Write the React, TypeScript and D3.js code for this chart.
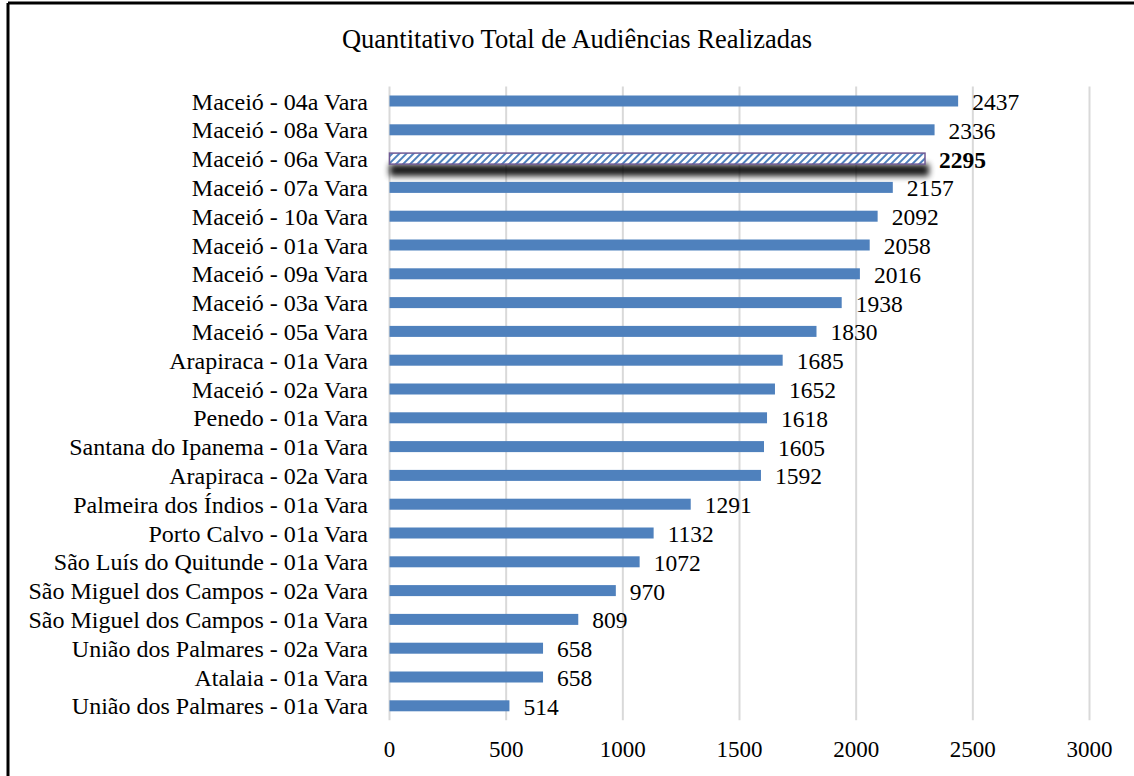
import React from "react";
import * as d3 from "d3";

const categories = [
  "Maceió - 04a Vara",
  "Maceió - 08a Vara",
  "Maceió - 06a Vara",
  "Maceió - 07a Vara",
  "Maceió - 10a Vara",
  "Maceió - 01a Vara",
  "Maceió - 09a Vara",
  "Maceió - 03a Vara",
  "Maceió - 05a Vara",
  "Arapiraca - 01a Vara",
  "Maceió - 02a Vara",
  "Penedo - 01a Vara",
  "Santana do Ipanema - 01a Vara",
  "Arapiraca - 02a Vara",
  "Palmeira dos Índios - 01a Vara",
  "Porto Calvo - 01a Vara",
  "São Luís do Quitunde - 01a Vara",
  "São Miguel dos Campos - 02a Vara",
  "São Miguel dos Campos - 01a Vara",
  "União dos Palmares - 02a Vara",
  "Atalaia - 01a Vara",
  "União dos Palmares - 01a Vara",
];
const values = [2437, 2336, 2295, 2157, 2092, 2058, 2016, 1938, 1830, 1685, 1652, 1618, 1605, 1592, 1291, 1132, 1072, 970, 809, 658, 658, 514];
const highlighted = "Maceió - 06a Vara";
const xTicks = [0, 500, 1000, 1500, 2000, 2500, 3000];
const title = "Quantitativo Total de Audiências Realizadas";

const W = 1134;
const H = 776;
const FONT = "'Liberation Serif', 'Times New Roman', serif";

export default function App() {
  const x = d3.scaleLinear().domain([0, 3000]).range([389.5, 1089.5]);
  const y = d3
    .scaleBand<string>()
    .domain(categories)
    .range([86.6, 720.2])
    .paddingInner(0.618)
    .paddingOuter(0.309);
  const bw = y.bandwidth();
  const top = 86.6;
  const bottom = 720.2;

  return (
    <svg
      width={W}
      height={H}
      style={{ position: "absolute", left: 0, top: 0, background: "#fff" }}
      fontFamily={FONT}
    >
      <defs>
        <pattern id="hatch" width="5" height="5" patternUnits="userSpaceOnUse" patternTransform="rotate(45)">
          <rect width="5" height="5" fill="#ffffff" />
          <rect width="2" height="5" fill="#4F81BD" />
        </pattern>
        <filter id="shadow" x="-10%" y="-200%" width="120%" height="500%">
          <feGaussianBlur stdDeviation="3" />
        </filter>
      </defs>
      <rect x={0} y={0} width={W} height={H} fill="#fff" />
      <line x1={8} y1={3} x2={W} y2={3} stroke="#000" strokeWidth={3} />
      <line x1={8} y1={3} x2={8} y2={H} stroke="#000" strokeWidth={3} />

      <text x={577} y={48} textAnchor="middle" fontSize={26.5} fill="#000">
        {title}
      </text>

      {xTicks.map((t) => (
        <g key={t}>
          <line x1={x(t)} x2={x(t)} y1={top} y2={bottom} stroke="#D9D9D9" strokeWidth={2} />
          <text x={x(t)} y={757} textAnchor="middle" fontSize={23} fill="#000">
            {t}
          </text>
        </g>
      ))}

      {categories.map((c, i) => {
        const v = values[i];
        const yy = y(c)!;
        const cy = yy + bw / 2;
        const isH = c === highlighted;
        return (
          <g key={c}>
            <text x={368} y={cy + 8.5} textAnchor="end" fontSize={24} fill="#000">
              {c}
            </text>
            {isH ? (
              <>
                <rect
                  x={x(0)}
                  y={yy + 11}
                  width={x(v) - x(0) + 4}
                  height={bw + 1}
                  fill="#000"
                  opacity={0.9}
                  filter="url(#shadow)"
                />
                <rect
                  x={x(0)}
                  y={yy}
                  width={x(v) - x(0)}
                  height={bw}
                  fill="url(#hatch)"
                  stroke="#6F5A94"
                  strokeWidth={1.5}
                />
              </>
            ) : (
              <rect x={x(0)} y={yy} width={x(v) - x(0)} height={bw} fill="#4F81BD" />
            )}
            <text
              x={x(v) + 14}
              y={cy + 9}
              fontSize={23.5}
              fontWeight={isH ? "bold" : "normal"}
              fill="#000"
            >
              {v}
            </text>
          </g>
        );
      })}
    </svg>
  );
}
